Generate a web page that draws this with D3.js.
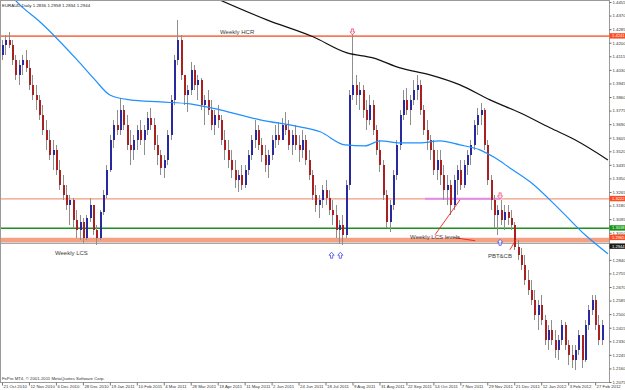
<!DOCTYPE html>
<html>
<head>
<meta charset="utf-8">
<script src="https://cdnjs.cloudflare.com/ajax/libs/d3/7.8.5/d3.min.js"></script>
<style>
html, body { margin: 0; padding: 0; background: #fff; }
svg { display: block; font-family: "Liberation Sans", Arial, sans-serif; }
</style>
</head>
<body>
<div id="chart"></div>
<script>
// chart data (2 trading days per candle)
var titleText = 'EURAUD,Daily  1.2836 1.2958 1.2834 1.2944';
var copyText = 'FxPro MT4, \u00a9 2001-2011 MetaQuotes Software Corp.';
var firstOpen = 1.4124;

var highs = [
1.4218,1.4249,1.4268,1.4218,1.4124,1.4092,1.4124,1.4155,1.4092,1.3999,
1.3936,1.3873,1.3811,1.3717,1.3654,1.3592,1.3560,1.3466,1.3373,1.3310,
1.3247,1.3229,1.3153,1.3122,1.3103,1.3122,1.3229,1.3185,1.3060,1.3153,
1.3279,1.3435,1.3623,1.3717,1.3779,1.3855,1.3811,1.3748,1.3654,1.3623,
1.3686,1.3717,1.3686,1.3767,1.3792,1.3729,1.3623,1.3529,1.3498,1.3654,
1.3873,1.4124,1.4343,1.4249,1.3999,1.3936,1.4080,1.4061,1.3999,1.3980,
1.3873,1.3905,1.3842,1.3779,1.3811,1.3748,1.3654,1.3592,1.3529,1.3466,
1.3404,1.3435,1.3435,1.3529,1.3623,1.3717,1.3686,1.3604,1.3560,1.3529,
1.3623,1.3686,1.3704,1.3729,1.3767,1.3717,1.3654,1.3686,1.3623,1.3654,
1.3623,1.3529,1.3404,1.3310,1.3247,1.3310,1.3341,1.3279,1.3216,1.3185,
1.3091,1.3122,1.3341,1.3905,1.4268,1.3999,1.3955,1.3936,1.3842,1.3873,
1.3842,1.3686,1.3592,1.3466,1.3279,1.3216,1.3404,1.3592,1.3779,1.3905,
1.3917,1.3873,1.3967,1.3999,1.3967,1.3811,1.3717,1.3623,1.3592,1.3529,
1.3529,1.3435,1.3373,1.3341,1.3373,1.3435,1.3466,1.3466,1.3529,1.3592,
1.3717,1.3792,1.3823,1.3792,1.3592,1.3373,1.3247,1.3185,1.3216,1.3185,
1.3185,1.3153,1.3078,1.2966,1.2916,1.2872,1.2778,1.2715,1.2653,1.2590,
1.2621,1.2496,1.2434,1.2465,1.2402,1.2371,1.2465,1.2452,1.2340,1.2308,
1.2308,1.2402,1.2371,1.2465,1.2559,1.2621,1.2621,1.2496,1.2465
];
var lows = [
1.4092,1.4124,1.4168,1.4061,1.3967,1.3936,1.3999,1.4017,1.3905,1.3842,
1.3779,1.3717,1.3623,1.3529,1.3466,1.3404,1.3373,1.3279,1.3216,1.3153,
1.3060,1.3041,1.2978,1.2966,1.2947,1.2966,1.3078,1.2997,1.2934,1.2966,
1.3122,1.3229,1.3391,1.3542,1.3623,1.3623,1.3654,1.3529,1.3435,1.3466,
1.3529,1.3560,1.3498,1.3623,1.3654,1.3529,1.3435,1.3373,1.3354,1.3435,
1.3592,1.3811,1.4061,1.3967,1.3811,1.3767,1.3873,1.3905,1.3842,1.3779,
1.3686,1.3748,1.3654,1.3623,1.3667,1.3560,1.3466,1.3416,1.3354,1.3291,
1.3266,1.3279,1.3291,1.3373,1.3466,1.3542,1.3529,1.3454,1.3391,1.3354,
1.3466,1.3542,1.3560,1.3592,1.3623,1.3529,1.3498,1.3529,1.3454,1.3479,
1.3435,1.3341,1.3216,1.3141,1.3103,1.3166,1.3185,1.3122,1.3060,1.2978,
1.2941,1.2934,1.2978,1.3279,1.3842,1.3811,1.3779,1.3729,1.3654,1.3686,
1.3623,1.3498,1.3391,1.3216,1.3041,1.3016,1.3153,1.3341,1.3529,1.3717,
1.3748,1.3686,1.3811,1.3842,1.3748,1.3623,1.3529,1.3466,1.3373,1.3341,
1.3310,1.3216,1.3185,1.3122,1.3153,1.3247,1.3279,1.3291,1.3373,1.3435,
1.3529,1.3623,1.3686,1.3529,1.3310,1.3153,1.3041,1.2997,1.3060,1.3028,
1.3060,1.3028,1.2903,1.2840,1.2778,1.2684,1.2621,1.2559,1.2465,1.2402,
1.2434,1.2308,1.2277,1.2308,1.2227,1.2214,1.2308,1.2277,1.2183,1.2164,
1.2152,1.2246,1.2164,1.2202,1.2402,1.2496,1.2402,1.2308,1.2308
];
var closes = [
1.4186,1.4218,1.4186,1.4092,1.3999,1.4061,1.4092,1.4042,1.3936,1.3873,
1.3842,1.3748,1.3654,1.3592,1.3498,1.3529,1.3404,1.3310,1.3247,1.3185,
1.3216,1.3091,1.3028,1.3078,1.2978,1.3103,1.3185,1.3028,1.2978,1.3141,
1.3247,1.3404,1.3592,1.3686,1.3654,1.3779,1.3686,1.3560,1.3529,1.3592,
1.3654,1.3592,1.3654,1.3729,1.3686,1.3560,1.3498,1.3416,1.3466,1.3623,
1.3842,1.4092,1.4218,1.3999,1.3873,1.3905,1.4030,1.3936,1.3967,1.3811,
1.3842,1.3779,1.3686,1.3748,1.3717,1.3592,1.3529,1.3466,1.3404,1.3341,
1.3373,1.3310,1.3404,1.3498,1.3592,1.3654,1.3560,1.3498,1.3435,1.3498,
1.3592,1.3623,1.3592,1.3686,1.3654,1.3560,1.3623,1.3560,1.3529,1.3592,
1.3466,1.3373,1.3247,1.3185,1.3216,1.3279,1.3229,1.3153,1.3122,1.3028,
1.3060,1.2997,1.3310,1.3873,1.3936,1.3873,1.3905,1.3779,1.3717,1.3811,
1.3654,1.3529,1.3435,1.3247,1.3078,1.3185,1.3373,1.3560,1.3748,1.3842,
1.3779,1.3842,1.3905,1.3936,1.3779,1.3654,1.3592,1.3529,1.3404,1.3466,
1.3373,1.3279,1.3310,1.3185,1.3341,1.3404,1.3310,1.3435,1.3498,1.3560,
1.3686,1.3748,1.3779,1.3560,1.3341,1.3216,1.3122,1.3153,1.3091,1.3141,
1.3103,1.3060,1.2922,1.2872,1.2809,1.2715,1.2653,1.2590,1.2496,1.2559,
1.2465,1.2340,1.2402,1.2340,1.2277,1.2340,1.2434,1.2308,1.2246,1.2214,
1.2277,1.2371,1.2214,1.2434,1.2527,1.2590,1.2434,1.2340,1.2434
];

// moving averages (bar index, price)
var maBlueBars = [3, 5.3, 11.3, 22.3, 27.6, 32, 38, 46.9, 55.8, 64.7, 76.6, 88.4, 94.4, 101.8, 107.7, 112.2, 118.1, 124, 130, 135.9, 141.8, 146.3, 150.7, 156.7, 165.6, 173, 179.8];
var maBlue = [1.4487, 1.4437, 1.4330, 1.4092, 1.3967, 1.3873, 1.3842, 1.3829, 1.3817, 1.3779, 1.3717, 1.3673, 1.3642, 1.3560, 1.3554, 1.3585, 1.3573, 1.3573, 1.3585, 1.3560, 1.3529, 1.3479, 1.3416, 1.3329, 1.3153, 1.2997, 1.2878];
var maBlackBars = [63.2, 78.6, 92.3, 102.4, 110.1, 118.1, 127, 135.9, 144.8, 153.7, 162.6, 170, 179.8];
var maBlack = [1.4481, 1.4343, 1.4237, 1.4136, 1.4105, 1.4042, 1.3999, 1.3936, 1.3842, 1.3761, 1.3667, 1.3592, 1.3466];

// horizontal objects: HCR, resistance, green level, LCS band, bid line
var levelPrices = [1.4241, 1.3222, 1.3038, 1.2965, 1.2944];
var violetFrom = 125.5, violetTo = 147.8;

var dateLabels = ['21 Oct 2010','12 Nov 2010','6 Dec 2010','28 Dec 2010','19 Jan 2011','10 Feb 2011','4 Mar 2011','28 Mar 2011','19 Apr 2011','11 May 2011','2 Jun 2011','24 Jun 2011','18 Jul 2011','9 Aug 2011','31 Aug 2011','22 Sep 2011','14 Oct 2011','7 Nov 2011','29 Nov 2011','21 Dec 2011','12 Jan 2012','3 Feb 2012','27 Feb 2012'];
var priceTicks = [1.4455,1.4370,1.4285,1.4200,1.4115,1.4030,1.3945,1.3860,1.3775,1.3690,1.3605,1.3520,1.3435,1.3350,1.3265,1.3180,1.3095,1.3010,1.2925,1.2840,1.2755,1.2670,1.2585,1.2500,1.2415,1.2330,1.2245,1.2160,1.2075];

var noteTexts = ['Weekly HCR', 'Weekly LCS', 'Weekly LCS levels', 'PBT&CB'];
var noteBars = [64.7, 15.7, 121.1, 144.2];
var notePrices = [1.4255, 1.2872, 1.2972, 1.2853];

var linkBars = [[128.5, 135.9], [134.4, 140.4], [150.7, 152.5]];
var linkPrices = [[1.2997, 1.3216], [1.2978, 1.2960], [1.2903, 1.2966]];

var upArrowBars = [97.8, 100.4, 147.8];
var upArrowPrices = [1.2869, 1.2869, 1.2950];
var downArrowBars = [104, 147.8];
var downArrowPrices = [1.4268, 1.3241];

// layout
var W = 625, H = 390, plotR = 609, plotB = 382;
var svg = d3.select('#chart').append('svg').attr('width', W).attr('height', H);
svg.append('rect').attr('width', W).attr('height', H).attr('fill', '#fff');
svg.append('defs').append('clipPath').attr('id', 'plotclip')
    .append('rect').attr('x', 0).attr('y', 0).attr('width', plotR).attr('height', plotB);

var x = d3.scaleLinear().domain([0, 180]).range([2, 608.6]);
var y = d3.scaleLinear().domain([1.4455, 1.2075]).range([2, 382]);
var fmt = d3.format('.4f');

var plot = svg.append('g').attr('clip-path', 'url(#plotclip)');

// level lines (background objects)
var levelColors = ['#f47a58', '#f29a84', '#1f8f1f', '#f5a083', '#8a8a8a'];
var levelWidths = [1.6, 1.4, 1.3, 4.5, 1];
var levelLabelFill = ['#ff4b1f', '#ff4b1f', '#179417', '#ff4b1f', '#1a1a1a'];
var levelLabelShift = [-3, -3, -3, -5.2, 0.2]; // band label sits above, bid label below

plot.selectAll('line.level').data(levelPrices).join('line')
    .attr('class', 'level')
    .attr('x1', 0).attr('x2', plotR)
    .attr('y1', d => y(d)).attr('y2', d => y(d))
    .attr('stroke', (d, i) => levelColors[i])
    .attr('stroke-width', (d, i) => levelWidths[i]);

plot.append('line')
    .attr('x1', x(violetFrom)).attr('x2', x(violetTo))
    .attr('y1', y(levelPrices[1])).attr('y2', y(levelPrices[1]))
    .attr('stroke', '#e58be6').attr('stroke-width', 2);

// candles
var bars = closes.map(function(c, i) {
    var o = i ? closes[i - 1] : firstOpen;
    return { i: i, o: o, c: c, h: Math.max(highs[i], o, c), l: Math.min(lows[i], o, c) };
});

var cg = plot.append('g').attr('shape-rendering', 'crispEdges');
cg.selectAll('line.wick').data(bars).join('line')
    .attr('class', 'wick')
    .attr('x1', d => Math.round(x(d.i)) + 0.5)
    .attr('x2', d => Math.round(x(d.i)) + 0.5)
    .attr('y1', d => y(d.h)).attr('y2', d => y(d.l))
    .attr('stroke', '#8e8e8e').attr('stroke-width', 1);

cg.selectAll('rect.body').data(bars).join('rect')
    .attr('class', 'body')
    .attr('x', d => Math.round(x(d.i)))
    .attr('width', 2)
    .attr('y', d => y(Math.max(d.o, d.c)))
    .attr('height', d => Math.max(1, Math.abs(y(d.o) - y(d.c))))
    .attr('fill', d => d.c >= d.o ? '#2828a0' : '#a82020');

// moving averages
var maLine = d3.line().x(d => x(d[0])).y(d => y(d[1])).curve(d3.curveMonotoneX);
plot.append('path')
    .attr('d', maLine(maBlueBars.map((b, i) => [b, maBlue[i]])))
    .attr('fill', 'none').attr('stroke', '#1e90ff').attr('stroke-width', 1.2);
plot.append('path')
    .attr('d', maLine(maBlackBars.map((b, i) => [b, maBlack[i]])))
    .attr('fill', 'none').attr('stroke', '#111').attr('stroke-width', 1.2);

// red connector lines
plot.selectAll('line.link').data(linkBars).join('line')
    .attr('class', 'link')
    .attr('x1', d => x(d[0])).attr('x2', d => x(d[1]))
    .attr('y1', (d, i) => y(linkPrices[i][0])).attr('y2', (d, i) => y(linkPrices[i][1]))
    .attr('stroke', '#e8221a').attr('stroke-width', 0.9);

// arrows
function arrowPath(dir) {
    // hollow block arrow, dir = -1 up, 1 down
    var p = [[0, -3], [2.6, 0], [1.1, 0], [1.1, 3], [-1.1, 3], [-1.1, 0], [-2.6, 0]];
    return 'M' + p.map(q => q[0] + ',' + (q[1] * -dir)).join('L') + 'Z';
}
plot.selectAll('path.up').data(upArrowBars).join('path')
    .attr('class', 'up')
    .attr('transform', (d, i) => 'translate(' + x(d) + ',' + y(upArrowPrices[i]) + ')')
    .attr('d', arrowPath(-1))
    .attr('fill', '#fff').attr('stroke', '#4b4bf0').attr('stroke-width', 0.8);
plot.selectAll('path.down').data(downArrowBars).join('path')
    .attr('class', 'down')
    .attr('transform', (d, i) => 'translate(' + x(d) + ',' + y(downArrowPrices[i]) + ')')
    .attr('d', arrowPath(1))
    .attr('fill', '#fde').attr('stroke', '#ef5a78').attr('stroke-width', 0.8);

// notes
plot.selectAll('text.note').data(noteTexts).join('text')
    .attr('class', 'note')
    .attr('x', (d, i) => x(noteBars[i]))
    .attr('y', (d, i) => y(notePrices[i]))
    .attr('font-size', '6px').attr('fill', '#3c3c3c')
    .text(d => d);

// frame
svg.append('rect').attr('x', 0.5).attr('y', 0.5).attr('width', plotR).attr('height', plotB)
    .attr('fill', 'none').attr('stroke', '#9a9a9a').attr('stroke-width', 1);

// price axis
var yAxis = d3.axisRight(y).tickValues(priceTicks).tickFormat(fmt).tickSize(2).tickSizeOuter(0);
var ya = svg.append('g').attr('transform', 'translate(' + (plotR + 0.5) + ',0)').call(yAxis);
ya.select('.domain').remove();
ya.selectAll('line').attr('stroke', '#666');
ya.selectAll('text').attr('x', 3).attr('font-size', '4.3px').attr('fill', '#333')
    .attr('font-family', '"Liberation Sans", Arial, sans-serif');

// level labels on the price axis
var lab = svg.selectAll('g.lvl').data(levelPrices).join('g')
    .attr('class', 'lvl')
    .attr('transform', (d, i) => 'translate(' + (plotR + 0.5) + ',' + (y(d) + levelLabelShift[i]) + ')');
lab.append('rect').attr('x', 0).attr('y', 0).attr('width', 16).attr('height', 5.4)
    .attr('fill', (d, i) => levelLabelFill[i]);
lab.append('text').attr('x', 2.5).attr('y', 2.7).attr('dy', '0.35em')
    .attr('font-size', '4.1px').attr('fill', '#fff').text(d => fmt(d));

// date axis
var dateBars = dateLabels.map((d, i) => i * 8);
var xAxis = d3.axisBottom(x).tickValues(dateBars).tickFormat((d, i) => dateLabels[i]).tickSize(3).tickSizeOuter(0);
var xa = svg.append('g').attr('transform', 'translate(0,' + (plotB + 0.5) + ')').call(xAxis);
xa.select('.domain').remove();
xa.selectAll('line').attr('stroke', '#777');
xa.selectAll('text').attr('text-anchor', 'start').attr('x', 1).attr('y', 2).attr('dy', '0.71em')
    .attr('font-size', '4.3px').attr('fill', '#333')
    .attr('font-family', '"Liberation Sans", Arial, sans-serif');

// title and copyright
svg.append('text').attr('x', 2).attr('y', 7).attr('font-size', '4.4px').attr('fill', '#222').text(titleText);
svg.append('text').attr('x', 2).attr('y', 380).attr('font-size', '4.3px').attr('fill', '#333').text(copyText);
</script>
</body>
</html>
